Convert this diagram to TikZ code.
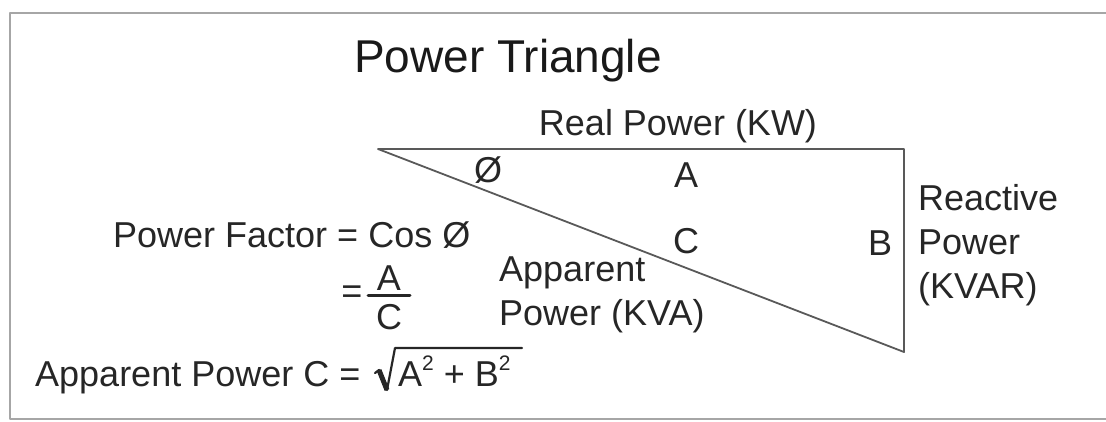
\documentclass[tikz,border=0pt]{standalone}
\usepackage{fontspec}
\setmainfont{Liberation Sans}
\newcommand{\sqtwo}{\raisebox{0.42em}{\fontsize{21}{21}\selectfont 2}}
\begin{document}
\begin{tikzpicture}[x=1pt, y=-1pt, line join=round, line cap=round,
  txt/.style={inner sep=0pt, font=\fontsize{36}{44}\selectfont, text=black!85},
  ttl/.style={inner sep=0pt, font=\fontsize{46}{54}\selectfont, text=black!90},
  frame/.style={draw=black!35, line width=2pt},
  side/.style={draw=black!65, line width=1.8pt},
  ink/.style={draw=black!85}]
 \useasboundingbox (0,0) rectangle (1106,421);
 \draw[frame] (1106,13) -- (10,13) -- (10,419) -- (1106,419);
 \coordinate (tl) at (378,149);
 \coordinate (tr) at (904,149);
 \coordinate (br) at (904,352);
 \draw[side] (tl) -- (tr) -- (br) -- cycle;
 \node[ttl, anchor=base] (title) at (508,72) {Power Triangle};
 \node[txt, anchor=base] (real) at (678,135) {Real Power (KW)};
 \node[txt] (angle) at (488,170) {Ø};
 \node[txt] (sideA) at (686,175) {A};
 \node[txt] (sideC) at (686,241) {C};
 \node[txt] (sideB) at (880,243) {B};
 \node[txt, anchor=west, align=left] (reactive) at (918,245) {Reactive\\Power\\(KVAR)};
 \node[txt, anchor=west, align=left] (apparent) at (499,295) {Apparent\\Power (KVA)};
 \node[txt, anchor=base west] (pf) at (113,247) {Power Factor = Cos Ø};
 \node[txt] (eq) at (352,295) {=};
 \node[txt] (num) at (389,278) {A};
 \node[txt] (den) at (389,317) {C};
 \draw[ink, line width=3pt] (368,295) -- (410,295);
 \node[txt, anchor=base west] (apc) at (35,386) {Apparent Power C =};
 \node[txt, anchor=base west] (rad) at (398,386) {A\sqtwo{} + B\sqtwo};
 \draw[ink, line width=2.2pt] (375,373) -- (379,370) -- (387,390) -- (395,348) -- (522,348);
 \draw[ink, line width=5pt, line cap=butt] (379,370) -- (387,390);
\end{tikzpicture}
\end{document}
